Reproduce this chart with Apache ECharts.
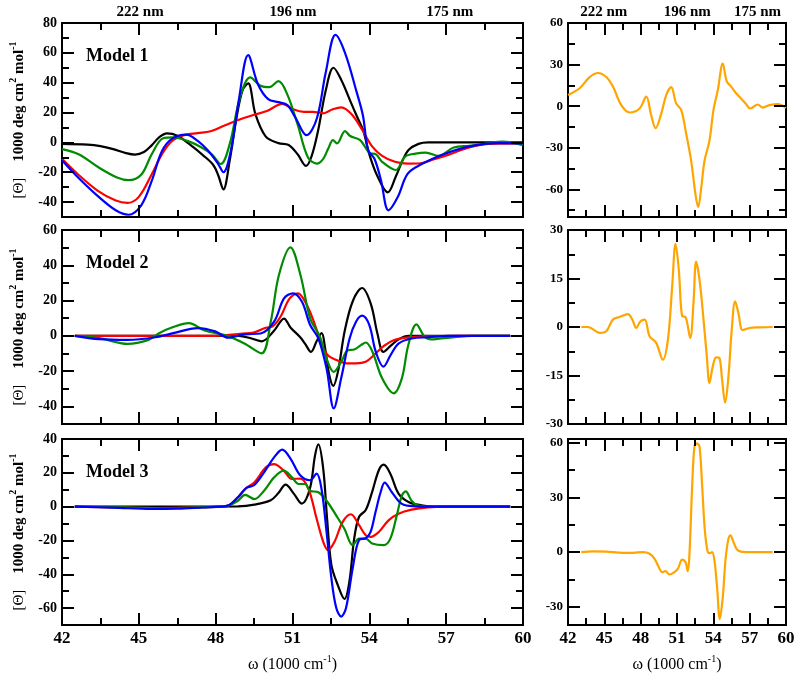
<!DOCTYPE html>
<html><head><meta charset="utf-8">
<script src="https://cdn.jsdelivr.net/npm/echarts@6/dist/echarts.min.js"></script>
<style>html,body{margin:0;padding:0;background:#fff}#c{width:800px;height:679px}</style>
</head><body><div id="c"></div>
<script>
// ---------- axes / labels ----------
const xMajor = [42,45,48,51,54,57,60];
const xMinor = [43.5,46.5,49.5,52.5,55.5,58.5];
const nmLabels = ['222 nm','196 nm','175 nm'];
const nmPosLeft = [45.05,51.02,57.14];
const nmPosRight = [44.95,51.85,57.65];
const modelNames = ['Model 1','Model 2','Model 3'];
const yRangeLeft = [[-50,80],[-50,60],[-70,40]];
const yMajorLeft = [[-40,-20,0,20,40,60,80],[-40,-20,0,20,40,60],[-60,-40,-20,0,20,40]];
const yMinorLeft = [[-30,-10,10,30,50,70],[-30,-10,10,30,50],[-50,-30,-10,10,30]];
const yRangeRight = [[-80,60],[-30,30],[-40,62]];
const yMajorRight = [[-60,-30,0,30,60],[-30,-15,0,15,30],[-30,0,30,60]];
const yMinorRight = [[-75,-45,-15,15,45],[-22.5,-7.5,7.5,22.5],[-15,15,45]];

// ---------- Model 1 ----------
const m1Black = [[42,-1],[43,-1.5],[43.5,-2.5],[44,-4.5],[44.5,-7.2],[44.85,-8.2],[45.2,-6.5],[45.5,-2],[45.8,3.5],[46.1,6],[46.5,4.5],[47,-1.5],[47.5,-8.5],[47.9,-15],[48.1,-22],[48.3,-31.5],[48.55,-12],[48.8,15],[49.05,35],[49.27,39.5],[49.55,19],[49.95,4],[50.45,-0.5],[50.85,-1.8],[51.2,-8],[51.53,-15.8],[51.75,-9],[52.0,8],[52.3,35],[52.6,50],[52.9,42],[53.25,28],[53.5,18],[53.76,8],[54.0,-8],[54.3,-22],[54.72,-33.5],[55.03,-23],[55.3,-12],[55.54,-5],[55.92,-1],[56.3,0],[57,0],[58,0],[59,0],[60,0]];
const m1Red = [[42,-11],[42.6,-21],[43.4,-32.5],[44.1,-39],[44.55,-40.6],[45,-36.5],[45.5,-21.5],[45.9,-8],[46.3,1],[46.8,5],[47.3,6.2],[47.8,7.5],[48.3,11],[48.8,14.5],[49.5,18.5],[50.0,21],[50.6,25.8],[51.05,22],[51.45,20.5],[51.8,20.5],[52.2,19.5],[52.55,22],[52.9,23.5],[53.3,19],[53.7,9],[54.1,-2.5],[54.5,-9],[55,-13],[55.5,-14.2],[56,-14],[56.5,-11.5],[57.1,-8.2],[57.9,-3.4],[58.7,-1],[60,-0.7]];
const m1Green = [[42,-4.5],[42.65,-8],[43.45,-17],[44.15,-23.5],[44.6,-25.3],[45.1,-21.5],[45.5,-8],[45.95,2.8],[46.35,3.4],[46.9,1],[47.45,-3.4],[47.85,-8],[48.2,-14.5],[48.55,-1],[48.95,30],[49.35,43.5],[49.75,38],[50.1,37],[50.45,41],[50.8,32],[51.2,12],[51.6,-10],[51.95,-14.2],[52.2,-11],[52.4,-4],[52.58,1.5],[52.74,-0.7],[53.05,7.6],[53.25,4.3],[53.64,1.5],[54.0,-7],[54.26,-8],[54.5,-13],[55.03,-18.5],[55.4,-9.5],[55.8,-7.5],[56.2,-6.8],[56.7,-9],[57.3,-3.4],[57.9,-2.3],[58.5,-1],[59.2,0.5],[60,-1.8]];
const m1Blue = [[42,-12],[42.6,-23],[43.4,-36],[44.1,-45.5],[44.6,-48.5],[45.1,-42],[45.5,-26],[45.9,-6],[46.3,2.5],[46.85,5.2],[47.3,1],[47.7,-5.5],[48.1,-14.5],[48.3,-20],[48.6,-5],[48.9,28],[49.27,58.5],[49.65,39],[50.05,29],[50.45,27],[50.8,25],[51.1,17],[51.55,4.8],[51.95,16],[52.3,47],[52.68,72],[53.05,60],[53.5,34],[53.75,18],[53.95,-5],[54.2,-11],[54.45,-25],[54.75,-45.5],[55.1,-37],[55.5,-21],[56.05,-14.5],[56.9,-8],[57.7,-3.5],[58.5,-1],[59.1,-0.5],[60,-0.7]];

// ---------- Model 2 ----------
const m2Black = [[42.5,0],[44,0],[46,0],[48,0],[48.9,0],[49.4,-1.5],[49.8,-3.1],[50.28,2.9],[50.67,9.8],[50.92,4.7],[51.31,-0.9],[51.5,-4.7],[51.72,-9.1],[51.95,-2.8],[52.14,1.5],[52.27,-6.7],[52.43,-21.8],[52.59,-28.4],[52.78,-19.9],[53.04,2.9],[53.36,19.9],[53.72,27.1],[54.06,18],[54.32,1],[54.55,-9.1],[54.83,-5.7],[55.15,-1.9],[55.54,0],[57,0],[59.5,0]];
const m2Red = [[42.5,0],[46,0],[48,0],[48.87,1],[49.51,2],[49.96,4.6],[50.21,5.2],[50.53,10.8],[50.89,21.2],[51.21,24.1],[51.56,17.5],[51.88,6.1],[52.14,-5.2],[52.4,-11.3],[52.72,-13.7],[53.1,-15.6],[53.48,-15.6],[53.86,-14.7],[54.18,-10.9],[54.57,-5.7],[54.95,-2.5],[55.54,-0.9],[56.3,-0.3],[57.5,0],[59.5,0]];
const m2Green = [[42.5,0],[43.46,-1.3],[44.56,-4.6],[45.38,-2.3],[45.79,1.5],[46.34,5],[46.95,7.2],[47.57,3],[48.36,0.4],[49.12,-4.3],[49.79,-9.9],[50.15,8],[50.47,34.5],[50.92,50.2],[51.31,34.5],[51.69,9.9],[52.07,-0.5],[52.33,-12.9],[52.61,-20.5],[52.9,-14.8],[53.16,-8.2],[53.41,-7.8],[53.67,-5.3],[53.86,-3.8],[54.12,-9],[54.5,-24.1],[54.95,-32.6],[55.27,-24.1],[55.52,-5.3],[55.84,6.5],[56.16,-0.5],[56.42,-2],[56.8,-1.5],[57.32,-0.8],[58,0],[59.5,0]];
const m2Blue = [[42.5,0],[43.46,-1.9],[44.56,-2.3],[45.65,-0.8],[46.34,1.5],[47.3,4.4],[47.98,2.5],[48.49,-1.1],[49.12,0.8],[49.76,1.3],[50.28,8],[50.67,21.2],[51.02,24.1],[51.37,19.3],[51.69,6.1],[52.01,-1.5],[52.33,-18.5],[52.61,-41.1],[52.9,-24.1],[53.23,-1.5],[53.48,8],[53.72,11.4],[54.0,6.1],[54.25,-9],[54.55,-17.5],[54.83,-10.9],[55.15,-4.3],[55.66,-1.5],[56.3,-0.8],[57.07,0],[59.5,0]];

// ---------- Model 3 ----------
const m3Black = [[42.5,0],[46,0],[48.87,0.2],[49.51,1.2],[50.15,3.8],[50.45,8],[50.73,13],[51.05,7.7],[51.36,1.8],[51.68,10.7],[51.88,30.3],[52.01,36.8],[52.2,22.4],[52.35,-7],[52.52,-34.6],[52.77,-46.4],[53.03,-54.6],[53.22,-44.4],[53.41,-18.8],[53.6,-6],[53.86,-2],[54.11,8.7],[54.37,21.5],[54.56,24.8],[54.82,19.5],[55.14,7.7],[55.53,2.8],[56.03,0.8],[56.55,0],[59.5,0]];
const m3Red = [[42.5,0],[44,-0.4],[45.5,-0.8],[47,-0.5],[48.2,0],[48.49,0.6],[48.87,5.5],[49.19,11],[49.51,14.3],[49.96,23.2],[50.28,25.2],[50.66,21.3],[50.98,16.4],[51.3,16.6],[51.62,10.7],[51.94,-7],[52.2,-20.8],[52.39,-25.7],[52.64,-20.8],[52.96,-9],[53.28,-4.5],[53.6,-11],[53.86,-16.9],[54.05,-17.9],[54.37,-15],[54.75,-8.1],[55.14,-4.2],[55.65,-1.8],[56.29,-0.4],[57,0],[59.5,0]];
const m3Green = [[42.5,0],[44,-0.3],[46,-0.8],[47.5,-0.3],[48.2,0],[48.49,0.6],[48.87,3.5],[49.15,6.9],[49.51,4.5],[49.89,9.4],[50.28,17.3],[50.66,21.3],[50.98,17.3],[51.24,13.4],[51.49,13.4],[51.68,9.4],[52.01,8.5],[52.33,3.5],[52.71,-5.3],[53.03,-13.2],[53.35,-22.8],[53.6,-18.9],[53.86,-18.9],[54.11,-21.8],[54.56,-22.8],[54.82,-18.9],[55.07,-5.3],[55.27,6.5],[55.42,9],[55.65,3.5],[55.91,0.6],[56.5,0],[59.5,0]];
const m3Blue = [[42.5,0],[44,-0.6],[45.5,-1.4],[46.5,-1.2],[47.5,-0.5],[48.2,0],[48.49,0.6],[48.87,5.5],[49.19,11],[49.51,12.8],[49.89,20.3],[50.28,29.1],[50.6,33.7],[50.92,28.4],[51.3,18.5],[51.68,15.6],[51.94,19.5],[52.13,10.7],[52.33,-14.9],[52.52,-42.4],[52.71,-60],[52.9,-65],[53.09,-60],[53.35,-36.4],[53.6,-19.7],[53.86,-18.7],[54.05,-14.9],[54.24,-3.3],[54.44,8.5],[54.6,14.2],[54.88,8.5],[55.27,1.6],[55.78,0.2],[56.5,0],[59.5,0]];

// ---------- right-hand panels ----------
const right1 = [[42,8],[42.96,12.9],[43.79,21],[44.48,23.9],[45.16,21],[45.71,14.1],[46.4,0.7],[47.09,-4.6],[47.91,-1.7],[48.46,6.8],[48.87,-6.6],[49.23,-15.9],[49.7,-5.4],[50.11,8],[50.52,13.7],[50.93,2],[51.35,-2.9],[51.76,-20],[52.17,-39.5],[52.53,-64],[52.75,-72.9],[53.0,-59],[53.27,-39.5],[53.68,-24.9],[54.01,-2.9],[54.37,11.7],[54.78,30.7],[55.11,17.8],[55.47,14.1],[55.88,9.3],[56.29,5.6],[56.7,1.5],[57.03,-1.7],[57.67,1.2],[58.08,-1],[58.63,0.7],[59.32,1.5],[60,-1.2]];
const right2 = [[43.1,0],[43.65,0],[44.61,-1.8],[45.16,-1.3],[45.71,2.3],[46.26,3.1],[46.95,4],[47.31,2.3],[47.64,-0.3],[47.97,1.7],[48.33,2.3],[48.74,-2.9],[49.28,-4.9],[49.83,-10.1],[50.25,-3.9],[50.6,12.5],[50.88,25.7],[51.15,17.7],[51.43,3.3],[51.7,3.1],[52.09,-3.4],[52.36,7.4],[52.58,20.2],[52.86,14.6],[53.19,2.3],[53.46,-9],[53.68,-17.3],[53.96,-12.1],[54.23,-9.4],[54.5,-9.6],[54.72,-16.2],[54.97,-23.4],[55.25,-15.2],[55.52,-0.8],[55.8,7.9],[56.07,4.3],[56.43,-1],[56.98,-0.3],[57.8,-0.1],[58.9,0]];
const right3 = [[43.1,0],[44.07,0.4],[45.16,0.2],[46.54,-0.4],[47.36,-0.4],[48.19,0],[48.74,-0.9],[49.15,-3.7],[49.5,-8.3],[49.78,-11],[50.05,-10.5],[50.38,-12.3],[50.79,-11],[51.07,-9.2],[51.43,-4.2],[51.7,-5.5],[51.89,-10.5],[52.03,-0.9],[52.25,35.8],[52.44,57.8],[52.64,59.6],[52.86,57.8],[53.08,35.8],[53.3,11.9],[53.54,0],[53.74,-0.6],[53.9,0],[54.09,-4.6],[54.31,-19.3],[54.53,-36.7],[54.78,-24.8],[55.0,-4.6],[55.22,6.4],[55.41,9.2],[55.66,5.5],[56.02,0.9],[56.7,0],[58.9,0]];

const leftSeries = [
  [m1Black, m1Red, m1Green, m1Blue],
  [m2Black, m2Red, m2Green, m2Blue],
  [m3Black, m3Red, m3Green, m3Blue]
];
const rightSeries = [right1, right2, right3];
const lineColors = ['#000000', '#ff0000', '#008b00', '#0000ff'];
const rightColor = '#ffa500';

// ---------- build ----------
const FONT = 'Liberation Serif';
const grids = [], xAxes = [], yAxes = [], series = [], titles = [];
const rowTop = [23, 230, 439];
const rowH = [194, 194, 186];
const MAJ = 12, MIN = 7;

function tickAxis(base, vals, len) {
  return Object.assign({
    type: 'value', z: 6,
    axisLine: {show: false, onZero: false}, splitLine: {show: false},
    axisTick: {show: true, inside: true, length: len, customValues: vals, lineStyle: {color: '#000', width: 2}},
    axisLabel: {show: false}
  }, base);
}

const yTitle = {
  name: '{n|[Θ]}{b|1000 deg cm}{s|2}{b| mol}{s|-1}',
  nameLocation: 'middle', nameRotate: 90, nameGap: 32,
  nameTextStyle: {
    color: '#000',
    rich: {
      n: {fontFamily: FONT, fontSize: 15, fontWeight: 'normal', color: '#000', lineHeight: 22, padding: [0, 16, 0, 0]},
      b: {fontFamily: FONT, fontSize: 15, fontWeight: 'bold', color: '#000', lineHeight: 22},
      s: {fontFamily: FONT, fontSize: 10, fontWeight: 'bold', color: '#000', lineHeight: 10, verticalAlign: 'top'}
    }
  }
};
const xTitle = {
  name: 'ω (1000 cm{s|-1})',
  nameLocation: 'middle', nameGap: 29,
  nameTextStyle: {
    fontFamily: FONT, fontSize: 16, color: '#000', lineHeight: 22,
    rich: {s: {fontFamily: FONT, fontSize: 10, color: '#000', lineHeight: 10, verticalAlign: 'top'}}
  }
};

for (let row = 0; row < 3; row++) {
  for (let col = 0; col < 2; col++) {
    const gi = grids.length;
    grids.push({left: col ? 568 : 54, top: rowTop[row], width: col ? 218 : 469, height: rowH[row],
      show: true, borderColor: '#000', borderWidth: 2, backgroundColor: 'rgba(0,0,0,0)'});
    const xi = xAxes.length, yi = yAxes.length;
    // x axes
    const bottomMain = tickAxis({gridIndex: gi, position: 'bottom', min: 42, max: 60}, xMajor, MAJ);
    if (row === 2) {
      bottomMain.axisLabel = {show: true, customValues: xMajor, fontFamily: FONT, fontWeight: 'bold', fontSize: 17, color: '#000', margin: 5};
      Object.assign(bottomMain, xTitle);
    }
    xAxes.push(bottomMain);
    xAxes.push(tickAxis({gridIndex: gi, position: 'bottom', min: 42, max: 60}, xMinor, MIN));
    const topMain = tickAxis({gridIndex: gi, position: 'top', min: 42, max: 60}, xMajor, MAJ);
    if (row === 0) {
      const pos = col ? nmPosRight : nmPosLeft;
      topMain.axisLabel = {show: true, customValues: pos, fontFamily: FONT, fontWeight: 'bold', fontSize: 15, color: '#000', margin: 3,
        formatter: v => { let k = 0; pos.forEach((p, i) => { if (Math.abs(p - v) < Math.abs(pos[k] - v)) k = i; }); return nmLabels[k]; }};
    }
    xAxes.push(topMain);
    xAxes.push(tickAxis({gridIndex: gi, position: 'top', min: 42, max: 60}, xMinor, MIN));
    // y axes
    const rng = col ? yRangeRight[row] : yRangeLeft[row];
    const maj = col ? yMajorRight[row] : yMajorLeft[row];
    const mnr = col ? yMinorRight[row] : yMinorLeft[row];
    const leftMain = tickAxis({gridIndex: gi, position: 'left', min: rng[0], max: rng[1]}, maj, MAJ);
    leftMain.axisLabel = {show: true, customValues: maj, fontFamily: FONT, fontWeight: 'bold', fontSize: col ? 13 : 14, color: '#000', margin: 5};
    if (!col) Object.assign(leftMain, yTitle);
    yAxes.push(leftMain);
    yAxes.push(tickAxis({gridIndex: gi, position: 'left', min: rng[0], max: rng[1]}, mnr, MIN));
    yAxes.push(tickAxis({gridIndex: gi, position: 'right', min: rng[0], max: rng[1]}, maj, MAJ));
    yAxes.push(tickAxis({gridIndex: gi, position: 'right', min: rng[0], max: rng[1]}, mnr, MIN));
    // series
    if (!col) {
      leftSeries[row].forEach((d, k) => series.push({
        type: 'line', xAxisIndex: xi, yAxisIndex: yi, data: d, showSymbol: false, smooth: 0.35,
        lineStyle: {color: lineColors[k], width: 2.2}, itemStyle: {color: lineColors[k]}, z: 2 + k
      }));
      titles.push({text: modelNames[row], left: 81, top: rowTop[row] + 19,
        textStyle: {fontFamily: FONT, fontWeight: 'bold', fontSize: 18, color: '#000'}});
    } else {
      series.push({type: 'line', xAxisIndex: xi, yAxisIndex: yi, data: rightSeries[row], showSymbol: false, smooth: 0.35,
        lineStyle: {color: rightColor, width: 2.2}, itemStyle: {color: rightColor}, z: 2});
    }
  }
}

const chart = echarts.init(document.getElementById('c'), null, {renderer: 'canvas'});
chart.setOption({
  animation: false,
  backgroundColor: '#fff',
  title: titles,
  grid: grids,
  xAxis: xAxes,
  yAxis: yAxes,
  series: series
});
</script>
</body></html>
